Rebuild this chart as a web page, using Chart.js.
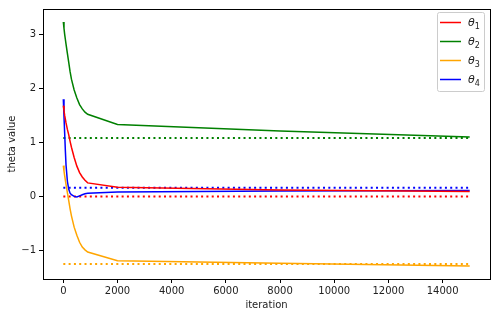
<!DOCTYPE html>
<html>
<head>
<meta charset="utf-8">
<script src="https://cdn.jsdelivr.net/npm/chart.js@4"></script>
<style>
  html, body { margin: 0; padding: 0; background: #fff; }
  #wrap { width: 496px; height: 317px; }
</style>
</head>
<body>
<div id="wrap"><canvas id="myChart" width="496" height="317"></canvas></div>
<script>
// iterations at which theta was sampled
const iterations = [0, 25, 50, 75, 100, 150, 200, 250, 300, 400, 500, 600, 700, 800, 900, 2000, 8000, 15000];

// estimated theta values (solid lines)
const theta1 = [1.68, 1.59, 1.50, 1.43, 1.36, 1.24, 1.14, 1.02, 0.91, 0.72, 0.56, 0.44, 0.36, 0.30, 0.25, 0.17, 0.12, 0.09];
const theta2 = [3.23, 3.11, 3.00, 2.91, 2.82, 2.65, 2.48, 2.31, 2.17, 1.97, 1.82, 1.70, 1.62, 1.56, 1.52, 1.33, 1.21, 1.10];
const theta3 = [0.57, 0.47, 0.38, 0.30, 0.22, 0.07, -0.08, -0.23, -0.36, -0.57, -0.72, -0.85, -0.94, -0.99, -1.03, -1.19, -1.24, -1.29];
const theta4 = [1.80, 1.48, 1.17, 0.85, 0.58, 0.28, 0.13, 0.06, 0.03, 0.00, -0.01, 0.01, 0.03, 0.05, 0.06, 0.08, 0.10, 0.11];

// true theta values (dotted lines)
const trueIters = [0, 15000];
const trueTheta = [0.0, 1.08, -1.25, 0.16];

const labels = ["θ1", "θ2", "θ3", "θ4"];
const colors = ["#ff0000", "#008000", "#ffa500", "#0000ff"];
const xTicks = [0, 2000, 4000, 6000, 8000, 10000, 12000, 14000];
const yTicks = [-1, 0, 1, 2, 3];

const series = [theta1, theta2, theta3, theta4];

const datasets = [];
series.forEach((vals, i) => {
  datasets.push({
    label: labels[i],
    data: iterations.map((it, k) => ({ x: it, y: vals[k] })),
    borderColor: colors[i],
    borderWidth: 1.5,
    pointRadius: 0,
    tension: 0,
    fill: false
  });
});
trueTheta.forEach((v, i) => {
  datasets.push({
    label: "",
    data: trueIters.map(it => ({ x: it, y: v })),
    borderColor: colors[i],
    borderWidth: 2,
    borderDash: [2, 3.3],
    borderCapStyle: "butt",
    pointRadius: 0,
    fill: false
  });
});

// box around the plot area + matplotlib-like legend
const framePlugin = {
  id: "frame",
  afterDraw(chart) {
    const { ctx, chartArea: a } = chart;
    ctx.save();
    ctx.strokeStyle = "#000";
    ctx.lineWidth = 1;
    ctx.strokeRect(Math.round(a.left) + 0.5, Math.round(a.top) + 0.5,
      Math.round(a.right - a.left), Math.round(a.bottom - a.top));

    // legend
    const bx = 437, by = 12, bw = 47, bh = 79;
    ctx.fillStyle = "rgba(255,255,255,0.8)";
    ctx.strokeStyle = "#cccccc";
    ctx.beginPath();
    ctx.roundRect(bx + 0.5, by + 0.5, bw, bh, 2);
    ctx.fill();
    ctx.stroke();
    for (let i = 0; i < 4; i++) {
      const ds = chart.data.datasets[i];
      const y = by + 10 + i * 19;
      ctx.strokeStyle = ds.borderColor;
      ctx.lineWidth = 1.5;
      ctx.beginPath();
      ctx.moveTo(bx + 3, y + 0.5);
      ctx.lineTo(bx + 24, y + 0.5);
      ctx.stroke();
      ctx.fillStyle = "#222";
      ctx.textBaseline = "alphabetic";
      ctx.font = "italic 11px 'DejaVu Sans'";
      ctx.fillText(ds.label[0], bx + 31, y + 4);
      const w = ctx.measureText(ds.label[0]).width;
      ctx.font = "8px 'DejaVu Sans'";
      ctx.fillText(ds.label.slice(1), bx + 31 + w, y + 6.5);
    }
    ctx.restore();
  }
};

const ctx = document.getElementById("myChart").getContext("2d");
new Chart(ctx, {
  type: "line",
  data: { datasets: datasets },
  options: {
    responsive: false,
    animation: false,
    layout: { padding: { left: 0, right: 6, top: 7, bottom: 0 } },
    plugins: { legend: { display: false }, tooltip: { enabled: false } },
    scales: {
      x: {
        type: "linear",
        min: -750,
        max: 15750,
        afterBuildTicks: s => { s.ticks = xTicks.map(v => ({ value: v })); },
        afterFit: s => { s.height = 38; },
        grid: { drawOnChartArea: false, tickLength: 4, color: "#000", tickColor: "#000" },
        border: { display: false },
        ticks: {
          color: "#222", font: { family: "DejaVu Sans", size: 10 }, padding: 2, maxRotation: 0, autoSkip: false,
          callback: v => String(v)
        },
        title: { display: true, text: "iteration", color: "#222", font: { family: "DejaVu Sans", size: 10 }, padding: { top: 0, bottom: 6 } }
      },
      y: {
        type: "linear",
        min: -1.53,
        max: 3.47,
        afterBuildTicks: s => { s.ticks = yTicks.map(v => ({ value: v })); },
        afterFit: s => { s.width = 43; },
        grid: { drawOnChartArea: false, tickLength: 4, color: "#000", tickColor: "#000" },
        border: { display: false },
        ticks: {
          color: "#222", font: { family: "DejaVu Sans", size: 10 }, padding: 3,
          callback: v => (v < 0 ? "\u2212" + Math.abs(v) : String(v))
        },
        title: { display: true, text: "theta value", color: "#222", font: { family: "DejaVu Sans", size: 10 }, padding: { top: 6, bottom: 0 } }
      }
    }
  },
  plugins: [framePlugin]
});
</script>
</body>
</html>
